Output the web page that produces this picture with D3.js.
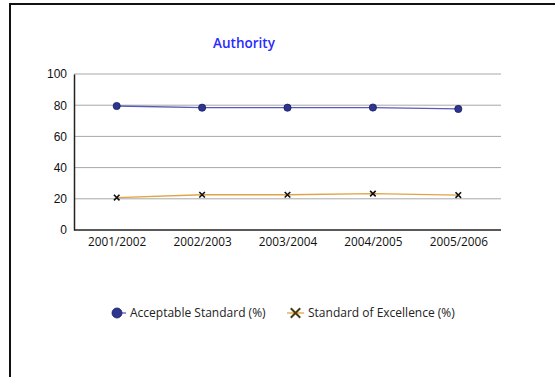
<!DOCTYPE html>
<html>
<head>
<meta charset="utf-8">
<script src="https://cdn.jsdelivr.net/npm/d3@7"></script>
<style>
  html, body { margin: 0; padding: 0; background: #fff; }
  svg { display: block; }
</style>
</head>
<body>
<svg id="chart" width="555" height="377"></svg>
<script>
// School years on the x axis
const years = ["2001/2002", "2002/2003", "2003/2004", "2004/2005", "2005/2006"];
// Percentages per year
const acceptable = [79.5, 78.4, 78.4, 78.5, 77.6];
const excellence = [20.8, 22.6, 22.6, 23.3, 22.4];
// Y axis ticks
const yTicks = [0, 20, 40, 60, 80, 100];

const svg = d3.select("#chart");
const W = 555, H = 377;
const m = { left: 74, right: 54, top: 74, bottom: 147 };

// outer frame (top and left edges visible)
svg.append("path")
  .attr("d", `M10,${H} L10,4 L${W},4`)
  .attr("fill", "none").attr("stroke", "#111").attr("stroke-width", 2);

svg.append("text")
  .attr("x", 244).attr("y", 48)
  .attr("text-anchor", "middle")
  .attr("font-family", "'Open Sans', sans-serif")
  .attr("font-size", 13.5).attr("font-weight", 600)
  .attr("fill", "#2a2aff")
  .text("Authority");

const x = d3.scalePoint().domain(years).range([m.left, W - m.right]).padding(0.5);
const y = d3.scaleLinear().domain([0, 100]).range([H - m.bottom, m.top]);

// horizontal gridlines
svg.append("g").selectAll("line").data(yTicks.filter(d => d > 0)).join("line")
  .attr("x1", m.left).attr("x2", W - m.right)
  .attr("y1", d => y(d)).attr("y2", d => y(d))
  .attr("stroke", "#a8a8a8").attr("stroke-width", 1);

// y axis
const yAxis = svg.append("g").attr("transform", `translate(${m.left},0)`)
  .call(d3.axisLeft(y).tickValues(yTicks).tickSize(0).tickPadding(7));
yAxis.select(".domain").attr("stroke", "#222").attr("stroke-width", 1.5);
yAxis.selectAll("text").attr("font-family", "'Liberation Sans', Arial, sans-serif")
  .attr("font-size", 12).attr("fill", "#111");

// x axis
const xAxis = svg.append("g").attr("transform", `translate(0,${y(0)})`)
  .call(d3.axisBottom(x).tickSize(0).tickPadding(8));
xAxis.select(".domain").attr("d", `M${m.left},0H${W - m.right}`)
  .attr("stroke", "#222").attr("stroke-width", 1.5);
xAxis.selectAll("text").attr("font-family", "'Open Sans', sans-serif")
  .attr("font-size", 11.8).attr("fill", "#111");

const line = d3.line().x((d, i) => x(years[i])).y(d => y(d));

// Standard of Excellence
svg.append("path").datum(excellence).attr("d", line)
  .attr("fill", "none").attr("stroke", "#e0a446").attr("stroke-width", 1.3);
const cross = d3.symbol().type(d3.symbolX).size(22);
svg.append("g").selectAll("path").data(excellence).join("path")
  .attr("transform", (d, i) => `translate(${x(years[i])},${y(d)})`)
  .attr("d", cross).attr("fill", "#111").attr("stroke", "#111").attr("stroke-width", 1.6);

// Acceptable Standard
svg.append("path").datum(acceptable).attr("d", line)
  .attr("fill", "none").attr("stroke", "#5a5ab8").attr("stroke-width", 1.3);
svg.append("g").selectAll("circle").data(acceptable).join("circle")
  .attr("cx", (d, i) => x(years[i])).attr("cy", d => y(d)).attr("r", 3.6)
  .attr("fill", "#2d3590").attr("stroke", "#1a1f5e").attr("stroke-width", 0.8);

// legend
const lg = svg.append("g").attr("font-family", "'Open Sans', sans-serif")
  .attr("font-size", 12).attr("fill", "#222");
const ly = 313;
lg.append("line").attr("x1", 112).attr("x2", 126).attr("y1", ly).attr("y2", ly)
  .attr("stroke", "#5a5ab8").attr("stroke-width", 1.3);
lg.append("circle").attr("cx", 117).attr("cy", ly).attr("r", 5)
  .attr("fill", "#2d3590").attr("stroke", "#1a1f5e").attr("stroke-width", 0.8);
lg.append("text").attr("x", 130).attr("y", ly).attr("dy", "0.35em").text("Acceptable Standard (%)");

lg.append("line").attr("x1", 287).attr("x2", 304).attr("y1", ly).attr("y2", ly)
  .attr("stroke", "#e0a446").attr("stroke-width", 1.3);
lg.append("path").attr("transform", `translate(295.5,${ly})`)
  .attr("d", d3.symbol().type(d3.symbolX).size(60))
  .attr("fill", "#4a3a10").attr("stroke", "#4a3a10").attr("stroke-width", 2);
lg.append("text").attr("x", 308).attr("y", ly).attr("dy", "0.35em").text("Standard of Excellence (%)");
</script>
</body>
</html>
